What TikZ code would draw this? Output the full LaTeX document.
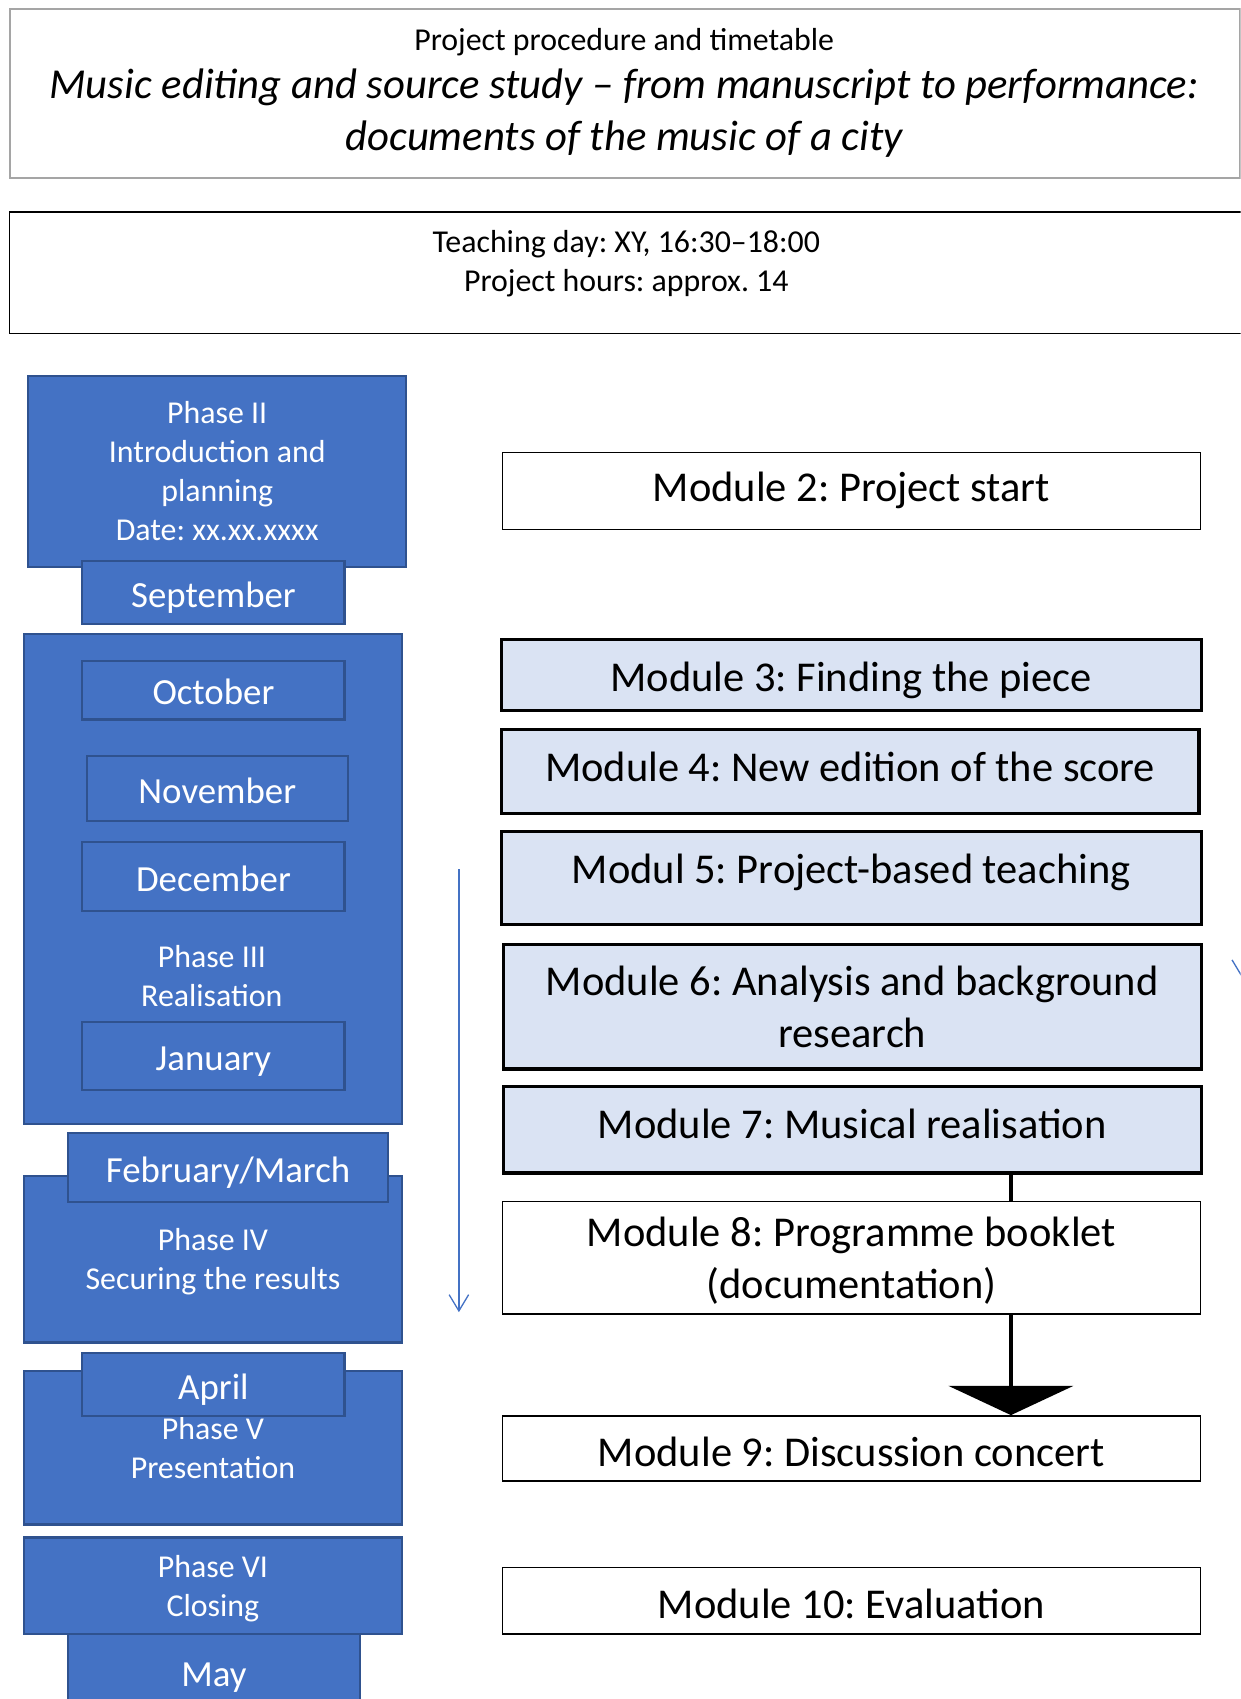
\documentclass[tikz,border=0pt]{standalone}
\usepackage{fontspec}
\setmainfont{Carlito}
\usetikzlibrary{arrows.meta}
\definecolor{phaseblue}{HTML}{4472C4}
\definecolor{phaseline}{HTML}{2F528F}
\definecolor{modfill}{HTML}{DAE3F3}
\definecolor{framegray}{HTML}{A5A5A5}
\frenchspacing
\begin{document}
\begin{tikzpicture}[x=0.5pt, y=-0.5pt,
% common options for the blue phase blocks:
phase/.style = {draw=phaseline, fill=phaseblue, line width=1pt, text=white,
            align=center, anchor=north west, inner sep=0,
            font=\fontsize{14.7}{18}\selectfont},
phasetext/.style = {text=white, align=center, inner sep=0,
            font=\fontsize{14.7}{18}\selectfont},
% month labels sit on top of the phase blocks:
month/.style = {phase, font=\fontsize{17}{20.7}\selectfont,
            text height=13.5pt, text depth=0pt},
% common options for the modules:
module/.style = {draw, fill=modfill, line width=1.5pt, align=center,
            anchor=north west, inner sep=0, font=\fontsize{19.6}{24}\selectfont},
plainmodule/.style = {module, fill=white, line width=0.75pt},
textdrop/.style = {text height=#1, text depth=0pt},
timeline/.style = {draw=phaseblue, line width=0.6pt,
            -{Straight Barb[width=9pt,length=7.5pt]}}]
\clip (0,0) rectangle (1145,1568);
% header
\node[draw=framegray, line width=1.2pt, anchor=north west, inner sep=0,
      minimum width=567.5pt, minimum height=78pt] (title) at (8,7) {};
\node[align=center, inner sep=0] (titletext) at (576,86)
  {\fontsize{14.7}{18}\selectfont Project procedure and timetable\\[5pt]
   \fontsize{19.7}{24.5}\selectfont\itshape Music editing and source study -- from manuscript to performance:\\[6pt]
   \fontsize{19.7}{24.5}\selectfont\itshape documents of the music of a city};
\node[draw, line width=0.8pt, anchor=north west, inner sep=0,
      minimum width=590pt, minimum height=56pt] (hours) at (8,195) {};
\node[align=center, inner sep=0, font=\fontsize{14.7}{18}\selectfont] (hourstext) at (578,243)
  {Teaching day: XY, 16:30--18:00\\Project hours: approx. 14};
% phases and months
\node[phase, minimum width=174.5pt, minimum height=88pt] (P2) at (25,346)
  {Phase II\\Introduction and\\planning\\Date: xx.xx.xxxx};
\node[month, minimum width=121pt, minimum height=29pt] (Sep) at (75,517) {September};
\node[phase, minimum width=174.5pt, minimum height=226pt] (P3) at (21,584) {};
\node[month, minimum width=121pt, minimum height=27pt] (Oct) at (75,609) {October};
\node[month, minimum width=120.5pt, minimum height=30pt] (Nov) at (79,697) {November};
\node[month, minimum width=121pt, minimum height=32pt] (Dec) at (75,776) {December};
\node[phasetext] (P3txt) at (195.5,901) {Phase III\\Realisation};
\node[month, minimum width=121pt, minimum height=31.5pt] (Jan) at (75,942) {January};
\node[phase, minimum width=174.5pt, minimum height=77pt, text depth=0pt] (P4) at (21,1084)
  {Phase IV\\Securing the results};
\node[month, minimum width=147.5pt, minimum height=31.5pt] (Feb) at (62,1045) {February/March};
\node[phase, minimum width=174.5pt, minimum height=71pt] (P5) at (21,1264)
  {Phase V\\Presentation};
\node[month, minimum width=121pt, minimum height=29pt] (Apr) at (75,1248) {April};
\node[phase, minimum width=174.5pt, minimum height=44.5pt, text depth=0pt] (P6) at (21,1418)
  {Phase VI\\Closing};
\node[month, minimum width=134.5pt, minimum height=35pt] (May) at (62,1507) {May};
% modules
\node[plainmodule, minimum width=322pt, minimum height=35.5pt, textdrop=10pt] (M2) at (463,417) {Module 2: Project start};
\node[module, minimum width=323pt, minimum height=32.5pt, textdrop=15pt] (M3) at (461,589) {Module 3: Finding the piece};
\node[module, minimum width=322pt, minimum height=38.5pt, textdrop=9pt] (M4) at (461,672) {Module 4: New edition of the score};
\node[module, minimum width=323pt, minimum height=43pt, textdrop=4.5pt] (M5) at (461,766) {Modul 5: Project-based teaching};
\node[module, minimum width=322pt, minimum height=57.5pt] (M6) at (463,870)
  {Module 6: Analysis and background\\research};
\node[module, minimum width=322pt, minimum height=40pt, textdrop=8.5pt] (M7) at (463,1001) {Module 7: Musical realisation};
\node[plainmodule, minimum width=322pt, minimum height=52pt, text depth=-4pt] (M8) at (463,1108)
  {Module 8: Programme booklet\\(documentation)};
\node[plainmodule, minimum width=322pt, minimum height=30pt, textdrop=16.5pt] (M9) at (463,1306) {Module 9: Discussion concert};
\node[plainmodule, minimum width=322pt, minimum height=30.5pt, textdrop=16pt] (M10) at (463,1446) {Module 10: Evaluation};
% connectors
\coordinate (link) at (933,0);
\draw[line width=1.5pt] (M7.south -| link) -- (M8.north -| link);
\draw[line width=1.5pt, -{Triangle[width=57.5pt,length=13.5pt]}] (M8.south -| link) -- (M9.north -| link);
% time arrows
\coordinate (tstart) at (423.5,802);
\coordinate (tend) at (423.5,1211);
\draw[timeline] (tstart) -- (tend);
\coordinate (rstart) at (1146,700);
\coordinate (rend) at (1146,902);
\draw[timeline] (rstart) -- (rend);
\end{tikzpicture}
\end{document}
